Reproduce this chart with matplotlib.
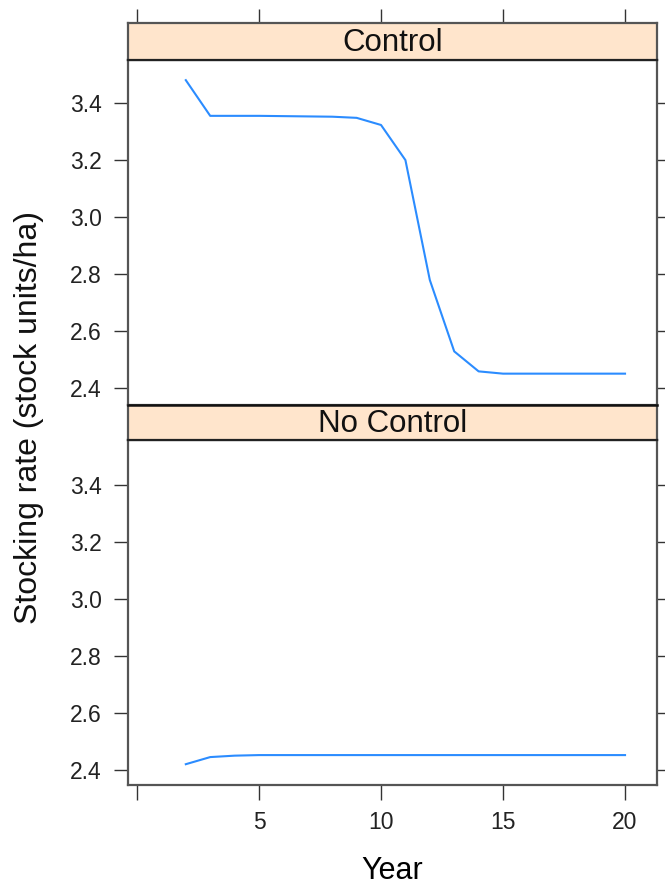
import matplotlib
matplotlib.use("agg")
import matplotlib.pyplot as plt

plt.rcParams["font.family"] = ["Liberation Sans", "DejaVu Sans"]

# ---------------------------------------------------------------------------
# Data
# ---------------------------------------------------------------------------
years = list(range(2, 21))
control = [3.48, 3.355, 3.355, 3.355, 3.354, 3.353, 3.352, 3.348, 3.323,
           3.20, 2.78, 2.53, 2.46, 2.452, 2.452, 2.452, 2.452, 2.452, 2.452]
no_control = [2.42, 2.445, 2.45, 2.452, 2.452, 2.452, 2.452, 2.452, 2.452,
              2.452, 2.452, 2.452, 2.452, 2.452, 2.452, 2.452, 2.452, 2.452, 2.452]
panel_names = ["Control", "No Control"]
x_ticks = [0, 5, 10, 15, 20]
x_ticklabels = ["", "5", "10", "15", "20"]
y_ticks = [2.4, 2.6, 2.8, 3.0, 3.2, 3.4]

LINE = "#2b8cff"
STRIP = "#ffe5cc"
FRAME = "#555555"
TICK = "#333333"

W, H = 665, 888
fig = plt.figure(figsize=(W / 100, H / 100), dpi=100)


def box(left, top, right, bottom):
    """Pixel box (from top-left) -> figure fraction rect."""
    return [left / W, 1 - bottom / H, (right - left) / W, (bottom - top) / H]


# pixel layout: (strip_top, strip_bottom, panel_bottom)
layout = [(23, 60, 405), (405, 440, 785)]
ylims = [(2.3422, 3.5506), (2.347, 3.558)]
series = [control, no_control]
x0, x1 = 128, 657
xlim = (-0.369, 21.31)

for i, (name, vals) in enumerate(zip(panel_names, series)):
    s_top, s_bot, p_bot = layout[i]
    ax = fig.add_axes(box(x0, s_bot, x1, p_bot))
    ax.plot(years, vals, color=LINE, lw=1.5)
    ax.set_xlim(*xlim)
    ax.set_ylim(*ylims[i])
    ax.set_yticks(y_ticks)
    ax.set_yticklabels([f"{v:.1f}" for v in y_ticks])
    ax.tick_params(axis="y", which="both", direction="out", length=10,
                   width=1.0, color=TICK, labelsize=16.5, pad=9,
                   labelcolor="#222222",
                   left=True, right=True, labelleft=True, labelright=False)
    if i == len(panel_names) - 1:
        ax.set_xticks(x_ticks)
        ax.set_xticklabels(x_ticklabels)
        ax.tick_params(axis="x", direction="out", length=10.5, width=1.0,
                       color=TICK, labelsize=16.5, pad=8,
                       labelcolor="#222222", bottom=True, top=False)
        ax.set_xlabel("Year", fontsize=22, labelpad=16)
    else:
        ax.set_xticks([])
    for sp in ax.spines.values():
        sp.set_color(FRAME)
        sp.set_linewidth(1.6)

    # strip
    sax = fig.add_axes(box(x0, s_top, x1, s_bot))
    sax.set_xlim(*xlim)
    sax.set_ylim(0, 1)
    sax.set_facecolor(STRIP)
    sax.text(0.5, 0.47, name, transform=sax.transAxes, ha="center",
             va="center", fontsize=22.5, color="#111111")
    sax.set_yticks([])
    if i == 0:
        sax.set_xticks(x_ticks)
        sax.set_xticklabels([])
        sax.tick_params(axis="x", direction="out", length=10, width=1.0,
                        color=TICK, bottom=False, top=True,
                        labelbottom=False)
    else:
        sax.set_xticks([])
    for sp in sax.spines.values():
        sp.set_color(FRAME)
        sp.set_linewidth(1.6)
    sax.spines["bottom"].set_color("#222222")
    if i > 0:
        sax.spines["top"].set_color("#111111")
        sax.spines["top"].set_linewidth(1.8)

fig.text(29 / W, 1 - 417 / H, "Stocking rate (stock units/ha)", rotation=90,
         ha="center", va="center", fontsize=23, color="#111111")

fig.savefig("out.png", dpi=100)
